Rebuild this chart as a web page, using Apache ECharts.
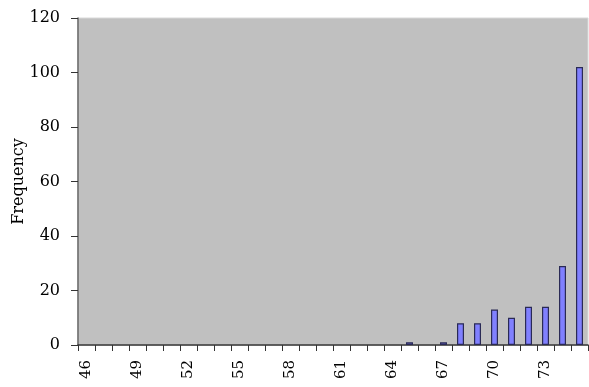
<!DOCTYPE html>
<html><head><meta charset="utf-8">
<script src="https://cdn.jsdelivr.net/npm/echarts@6/dist/echarts.min.js"></script>
<style>html,body{margin:0;padding:0;background:#fff}#c{width:589px;height:387px}</style>
</head><body><div id="c"></div>
<script>
var categories = ['46','47','48','49','50','51','52','53','54','55','56','57','58','59','60','61','62','63','64','65','66','67','68','69','70','71','72','73','74','75'];
var frequency = [0,0,0,0,0,0,0,0,0,0,0,0,0,0,0,0,0,0,0,1,0,1,8,8,13,10,14,14,29,102];
var yTicks = [0,20,40,60,80,100,120];

var chart = echarts.init(document.getElementById('c'));
var font = 'DejaVu Serif';
var barData = frequency.map(function(v){
  return v === 0 ? {value: v, itemStyle: {borderWidth: 0, opacity: 0}} : v;
});
chart.setOption({
  animation: false,
  backgroundColor: '#ffffff',
  grid: {left: 78, right: 1, top: 18, bottom: 42, outerBoundsMode: 'none', containLabel: false, show: true, backgroundColor: '#c0c0c0', borderColor: '#d8d8d8', borderWidth: 1},
  xAxis: {
    type: 'category', data: categories, boundaryGap: true,
    axisLine: {lineStyle: {color: '#333', width: 1.5}},
    axisTick: {show: true, interval: 0, alignWithLabel: false, length: 6, lineStyle: {color: '#333'}},
    axisLabel: {rotate: 90, interval: function(i){return i % 3 === 0 && i < 28;}, color: '#000', fontFamily: font, fontSize: 15, margin: 15}
  },
  yAxis: {
    type: 'value', min: 0, max: 120, interval: 20,
    name: 'Frequency', nameLocation: 'middle', nameGap: 51, nameRotate: 90, nameMoveOverlap: false,
    nameTextStyle: {fontFamily: font, fontSize: 16, color: '#000'},
    axisLine: {show: true, lineStyle: {color: '#666', width: 1.5}},
    axisTick: {show: true, length: 7, lineStyle: {color: '#333'}},
    splitLine: {show: false},
    axisLabel: {color: '#000', fontFamily: font, fontSize: 16, margin: 18,
      formatter: function(v){return yTicks.indexOf(v) >= 0 ? String(v) : '';}}
  },
  series: [{
    type: 'bar', data: barData, barWidth: 7,
    itemStyle: {color: '#8080ff', borderColor: '#2a2a55', borderWidth: 1.2}
  }]
});
</script></body></html>
